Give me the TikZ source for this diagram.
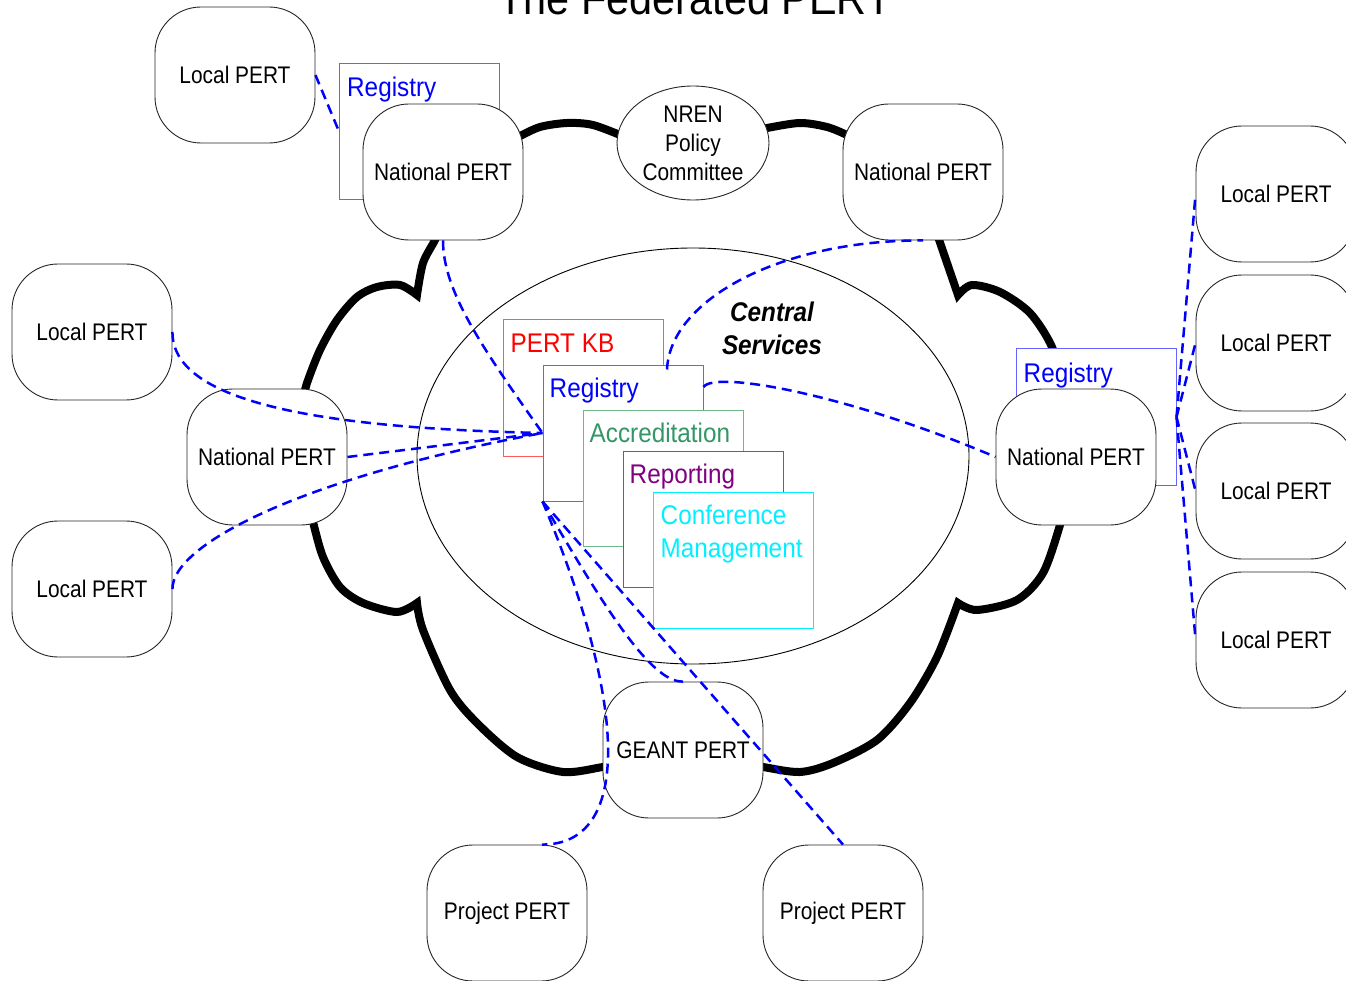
\documentclass[tikz,border=0pt]{standalone}
\usepackage{fontspec}
\setmainfont{Liberation Sans}
\newfontfamily\nodefont[FakeStretch=0.87]{Liberation Sans}
\newfontfamily\boxfont[FakeStretch=0.9]{Liberation Sans}
\usetikzlibrary{shapes.geometric}
\definecolor{kbred}{RGB}{255,0,0}
\definecolor{kbredline}{RGB}{255,90,90}
\definecolor{regblue}{RGB}{0,0,255}
\definecolor{regblueline}{RGB}{100,100,255}
\definecolor{accgreen}{RGB}{51,150,102}
\definecolor{accgreenline}{RGB}{110,185,140}
\definecolor{reppurple}{RGB}{128,0,128}
\definecolor{reppurpleline}{RGB}{160,60,160}
\definecolor{confcyan}{RGB}{0,240,255}
\definecolor{linkblue}{RGB}{0,0,255}
\begin{document}
\begin{tikzpicture}[x=1pt,y=-1pt,
  pert/.style={draw=black!85, line width=0.9pt, fill=white, rounded corners=46pt,
    minimum width=160pt, minimum height=136pt, inner sep=0pt,
    font=\nodefont\fontsize{24}{29}\selectfont},
  svcbox/.style={draw=#1, line width=1pt, fill=white, minimum width=160pt,
    minimum height=136pt, inner sep=0pt},
  svclabel/.style={text=#1, anchor=base west, inner sep=0pt,
    font=\boxfont\fontsize{27}{33}\selectfont},
  link/.style={draw=linkblue, line width=2.5pt, dash pattern=on 10pt off 6pt},
  cloudline/.style={draw=black, line width=8pt, line join=miter}
]
\useasboundingbox (0,0) rectangle (1346,981);

% title
\node[anchor=base, inner sep=0pt, font=\boxfont\fontsize{46}{50}\selectfont] (title) at (695,15) {The Federated PERT};

% cloud
\draw[cloudline] plot[smooth] coordinates {(505,143) (518,137) (540,127) (567,123) (593,125) (625,137)};
\draw[cloudline] plot[smooth] coordinates {(755,131) (767,128) (800,123) (827,127) (847,135) (858,141)};
\draw[cloudline] (935,228) -- plot[smooth] coordinates {(958,295) (972,285) (1000,292) (1030,313) (1052,347) (1064,390)};
\draw[cloudline] plot[smooth] coordinates {(1064,505) (1060,525) (1043,573) (1017,600) (977,610) (958,603)}
  -- plot[smooth] coordinates {(958,603) (937,657) (910,703) (877,740) (833,763) (800,772) (763,767) (750,765)};
\draw[cloudline] plot[smooth] coordinates {(616,766) (603,767) (563,772) (517,757) (477,723) (450,690) (423,630) (417,603)}
  -- plot[smooth] coordinates {(417,603) (397,612) (363,603) (340,587) (323,557) (313,522) (309,505)};
\draw[cloudline] plot[smooth] coordinates {(303,400) (307,383) (320,350) (337,320) (357,297) (377,287) (400,285) (417,295)}
  -- plot[smooth] coordinates {(417,295) (423,263) (435,240) (438,230)};

% central services ellipse
\node[ellipse, draw=black, line width=0.9pt, minimum width=552pt, minimum height=416pt, inner sep=0pt] (central) at (693,456) {};
\node[anchor=base, inner sep=0pt, font=\boxfont\bfseries\itshape\fontsize{27}{33}\selectfont] (cs1) at (772,322) {Central};
\node[anchor=base, inner sep=0pt, font=\boxfont\bfseries\itshape\fontsize{27}{33}\selectfont] (cs2) at (772,355) {Services};

% service boxes
\node[svcbox=regblueline] (reg1) at (419.5,131.5) {};
\node[svclabel=regblue] (reg1t) at ([shift={(8,34)}]reg1.north west) {Registry};

\node[svcbox=kbredline] (kb) at (583,388) {};
\node[svclabel=kbred] (kbt) at ([shift={(8,33)}]kb.north west) {PERT KB};
\node[svcbox=regblueline] (reg2) at (623,433) {};
\node[svclabel=regblue] (reg2t) at ([shift={(7,33)}]reg2.north west) {Registry};
\node[svcbox=accgreenline] (acc) at (663,478) {};
\node[svclabel=accgreen] (acct) at ([shift={(7,33)}]acc.north west) {Accreditation};
\node[svcbox=reppurpleline] (rep) at (703,519) {};
\node[svclabel=reppurple] (rept) at ([shift={(7,33)}]rep.north west) {Reporting};
\node[svcbox=confcyan] (conf) at (733,560) {};
\node[svclabel=confcyan] (conft1) at ([shift={(8,33)}]conf.north west) {Conference};
\node[svclabel=confcyan] (conft2) at ([shift={(8,66)}]conf.north west) {Management};

\node[svcbox=regblueline] (reg3) at (1096,417) {};
\node[svclabel=regblue] (reg3t) at ([shift={(8,34)}]reg3.north west) {Registry};

% PERT nodes
\node[pert] (ltl) at (235,75) {Local PERT};
\node[pert] (ntl) at (443,172) {National PERT};
\node[ellipse, draw=black!85, line width=0.9pt, fill=white, minimum width=152pt, minimum height=114pt,
  inner sep=0pt, align=center, font=\nodefont\fontsize{24}{29}\selectfont] (nren) at (693,143) {NREN\\Policy\\Committee};
\node[pert] (ntr) at (923,172) {National PERT};
\node[pert] (llt) at (92,332) {Local PERT};
\node[pert] (nl) at (267,457) {National PERT};
\node[pert] (llb) at (92,589) {Local PERT};
\node[pert] (nr) at (1076,457) {National PERT};
\node[pert] (lr1) at (1276,194) {Local PERT};
\node[pert] (lr2) at (1276,343) {Local PERT};
\node[pert] (lr3) at (1276,491) {Local PERT};
\node[pert] (lr4) at (1276,640) {Local PERT};
\node[pert] (geant) at (683,750) {GEANT PERT};
\node[pert] (ppl) at (507,913) {Project PERT};
\node[pert] (ppr) at (843,913) {Project PERT};

% dashed links
\coordinate (r2top) at ([shift={(44,5)}]reg2.north);
\coordinate (r2right) at ([shift={(0,-46)}]reg2.east);
\coordinate (ppltop) at ([shift={(35,0)}]ppl.north);

\draw[link] (ltl.east) -- (reg1.west);
\draw[link] (ntl.south) .. controls (443,290) and (480,345) .. (reg2.west);
\draw[link] (llt.east) .. controls (172,400) and (310,428) .. (reg2.west);
\draw[link] (nl.east) -- (reg2.west);
\draw[link] (llb.east) .. controls (172,545) and (300,478) .. (reg2.west);
\draw[link] (r2top) .. controls (670,300) and (780,240) .. (ntr.south);
\draw[link] (r2right) .. controls (715,370) and (850,395) .. (nr.west);
\draw[link] (reg2.south west) .. controls (630,710) and (630,845) .. (ppltop);
\draw[link] (reg2.south west) .. controls (600,600) and (650,683) .. (geant.north);
\draw[link] (reg2.south west) -- (ppr.north);
\draw[link] (reg3.east) -- (lr1.west);
\draw[link] (reg3.east) -- (lr2.west);
\draw[link] (reg3.east) -- (lr3.west);
\draw[link] (reg3.east) -- (lr4.west);
\end{tikzpicture}
\end{document}
